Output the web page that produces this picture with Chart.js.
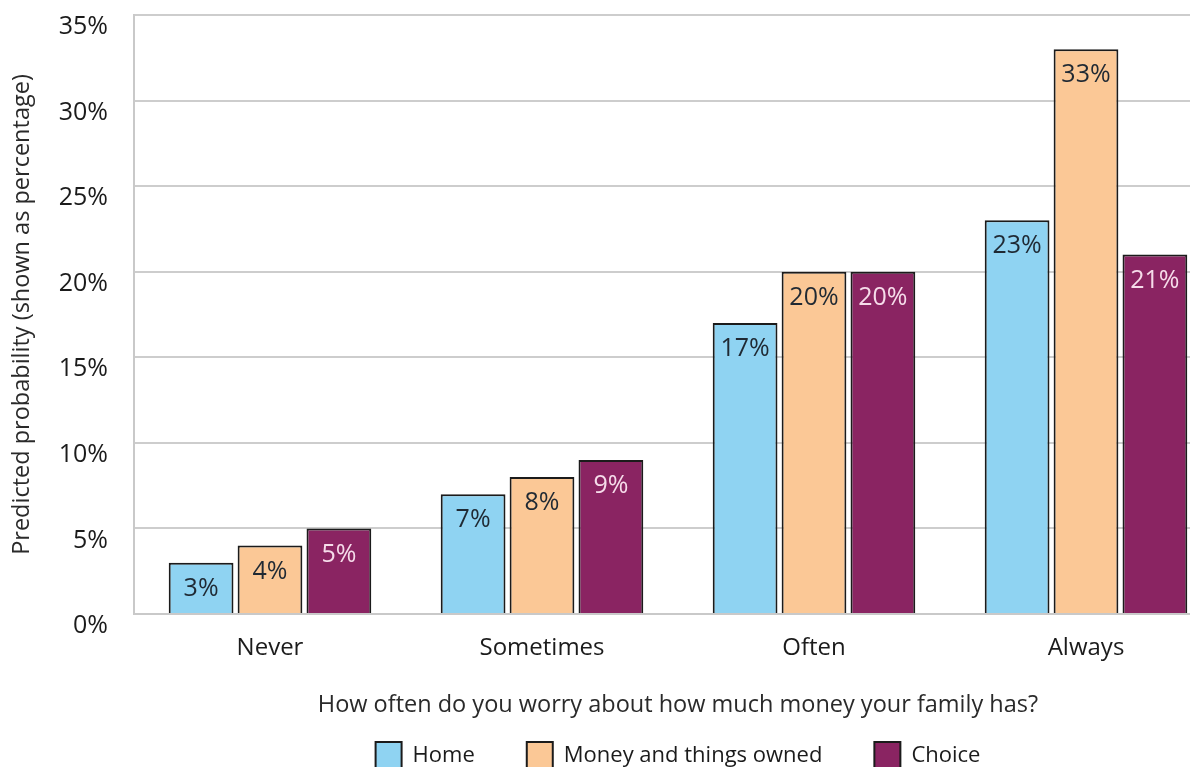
<!DOCTYPE html>
<html>
<head>
<meta charset="utf-8">
<script src="https://cdn.jsdelivr.net/npm/chart.js@4"></script>
<style>
  html, body { margin: 0; padding: 0; background: #fff; overflow: hidden; }
  #wrap { position: absolute; left: 0; top: 0; width: 1222px; height: 780px; }
</style>
</head>
<body>
<div id="wrap"><canvas id="c" width="1222" height="780"></canvas></div>
<script>
// Answers to "How often do you worry about how much money your family has?"
const categories = ['Never', 'Sometimes', 'Often', 'Always'];
const seriesNames = ['Home', 'Money and things owned', 'Choice'];
const homeValues = [3, 7, 17, 23];
const moneyValues = [4, 8, 20, 33];
const choiceValues = [5, 9, 20, 21];
const yMax = 35;
const yStep = 5;

const FONT = '"Open Sans", "DejaVu Sans", sans-serif';
const INK = '#1b1b1b';

// Percentage written inside the top of each bar
const barValueLabels = {
  id: 'barValueLabels',
  afterDatasetsDraw(chart) {
    const ctx = chart.ctx;
    ctx.save();
    ctx.font = '25px ' + FONT;
    ctx.textAlign = 'center';
    ctx.textBaseline = 'middle';
    chart.data.datasets.forEach((ds, i) => {
      const meta = chart.getDatasetMeta(i);
      ctx.fillStyle = ds.labelColor;
      meta.data.forEach((bar, j) => {
        ctx.fillText(ds.data[j] + '%', bar.x, bar.y + 26);
      });
    });
    ctx.restore();
  }
};

new Chart(document.getElementById('c'), {
  type: 'bar',
  data: {
    labels: categories,
    datasets: [
      { label: seriesNames[0], data: homeValues, backgroundColor: '#8fd3f2', borderColor: INK, borderWidth: 2, labelColor: '#1f2933' },
      { label: seriesNames[1], data: moneyValues, backgroundColor: '#fbc896', borderColor: INK, borderWidth: 2, labelColor: '#1f2933' },
      { label: seriesNames[2], data: choiceValues, backgroundColor: '#8a2462', borderColor: INK, borderWidth: 2, labelColor: '#f6dcea' }
    ]
  },
  options: {
    responsive: false,
    animation: false,
    layout: { padding: { top: 15, left: 0, right: 0, bottom: 0 } },
    datasets: { bar: { categoryPercentage: 0.76, barPercentage: 0.94 } },
    plugins: {
      legend: {
        position: 'bottom',
        fullSize: false,
        labels: {
          font: { family: FONT, size: 22 },
          color: '#1b1b1b',
          boxWidth: 26,
          boxHeight: 28,
          padding: 52
        }
      },
      tooltip: { enabled: false }
    },
    scales: {
      x: {
        afterFit(scale) { scale.height = 76; },
        grid: { display: false },
        border: { display: true, color: '#c9c9c9', width: 2 },
        ticks: { font: { family: FONT, size: 24 }, color: '#1b1b1b', padding: 12 },
        title: {
          display: true,
          text: 'How often do you worry about how much money your family has?',
          font: { family: FONT, size: 23.5 },
          color: '#2a2a2a',
          padding: { top: 0, bottom: -29 }
        }
      },
      y: {
        min: 0,
        max: yMax,
        afterFit(scale) {
          scale.width = 134;
          scale.paddingTop = 0;
          scale.paddingBottom = 0;
        },
        grid: { color: '#cdcdcd', lineWidth: 2, drawTicks: false },
        border: { display: true, color: '#c9c9c9', width: 2 },
        ticks: {
          stepSize: yStep,
          callback: v => v + '%',
          font: { family: FONT, size: 25 },
          color: '#1b1b1b',
          padding: 26,
          labelOffset: 12
        },
        title: {
          display: true,
          text: 'Predicted probability (shown as percentage)',
          font: { family: FONT, size: 23.5 },
          color: '#2a2a2a',
          padding: { top: 8, bottom: 0 }
        }
      }
    }
  },
  plugins: [barValueLabels]
});
</script>
</body>
</html>
